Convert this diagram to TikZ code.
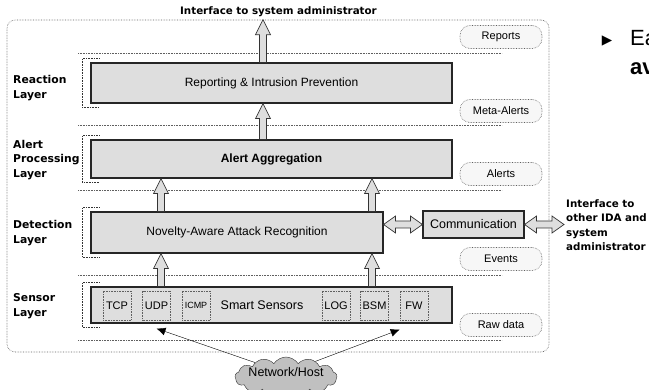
\documentclass[tikz,border=0pt]{standalone}
\usepackage{fontspec}
\setmainfont{Liberation Sans}
\newfontfamily\gothfont{DejaVu Sans}
\usetikzlibrary{arrows.meta,positioning,shapes.symbols,calc}
\definecolor{boxgray}{RGB}{222,222,222}
\definecolor{dotgray}{RGB}{95,95,95}
\definecolor{cloudgray}{RGB}{192,192,192}

\tikzset{
  layerbox/.style={draw=black!85, line width=1.1pt, fill=boxgray, inner sep=0pt,
    font=\fontsize{12}{14}\selectfont},
  sensbox/.style={draw=dotgray, densely dotted, line width=0.6pt, minimum width=28pt,
    minimum height=29pt, inner sep=0pt, font=\fontsize{11}{12}\selectfont},
  pill/.style={draw=dotgray, densely dotted, line width=0.6pt, rounded corners=10pt,
    fill=black!3, minimum width=82pt, minimum height=23pt, font=\fontsize{11}{12}\selectfont},
  layerlab/.style={font=\gothfont\bfseries\fontsize{10.8}{14.5}\selectfont, align=left,
    anchor=west, inner sep=0pt},
  sepline/.style={dotgray, densely dotted, line width=0.6pt},
  bracket/.style={black!80, densely dotted, line width=0.6pt},
  fatarrow/.style={draw=black!80, fill=boxgray, line width=0.7pt, line join=miter},
}

% outlined block arrow, bottom point #1 up to tip #2
\newcommand{\fatup}[2]{%
  \path[fatarrow] let \p1=(#1), \p2=(#2) in
    (\x1-3.5pt,\y1) -- (\x1-3.5pt,\y2-15pt) -- (\x1-7.5pt,\y2-15pt) -- (\x1,\y2)
    -- (\x1+7.5pt,\y2-15pt) -- (\x1+3.5pt,\y2-15pt) -- (\x1+3.5pt,\y1) -- cycle;}
% outlined double block arrow, left tip #1 to right tip #2
\newcommand{\fatboth}[2]{%
  \path[fatarrow] let \p1=(#1), \p2=(#2) in
    (\x1,\y1) -- (\x1+12pt,\y1+8.5pt) -- (\x1+12pt,\y1+3.5pt) -- (\x2-12pt,\y1+3.5pt)
    -- (\x2-12pt,\y1+8.5pt) -- (\x2,\y1) -- (\x2-12pt,\y1-8.5pt) -- (\x2-12pt,\y1-3.5pt)
    -- (\x1+12pt,\y1-3.5pt) -- (\x1+12pt,\y1-8.5pt) -- cycle;}

\begin{document}
\begin{tikzpicture}[x=1pt,y=-1pt]
  \useasboundingbox (0,0) rectangle (649,390);
  % outer frame
  \node[draw=dotgray, densely dotted, line width=0.6pt, rounded corners=8pt,
    minimum width=542pt, minimum height=332pt, inner sep=0pt] (outer) at (278,186) {};
  \node[font=\gothfont\bfseries\fontsize{10.3}{12}\selectfont] (admin) at (278.5,12)
    {Interface to system administrator};
  % layer separators
  \foreach \yy in {53,125,190,275,340}
    \draw[sepline] (78,\yy) -- (502,\yy);
  % layer labels
  \node[layerlab] (lreact) at (13,88) {Reaction\\Layer};
  \node[layerlab] (lalert) at (13,160) {Alert\\Processing\\Layer};
  \node[layerlab] (ldet) at (13,233) {Detection\\Layer};
  \node[layerlab] (lsens) at (13,306) {Sensor\\Layer};
  % main boxes
  \node[layerbox, minimum width=361pt, minimum height=40pt] (rep) at (271.5,83)
    {Reporting \& Intrusion Prevention};
  \node[layerbox, minimum width=361pt, minimum height=38pt] (agg) at (271.5,159)
    {\bfseries Alert Aggregation};
  \node[layerbox, minimum width=292pt, minimum height=41pt] (nov) at (237,232.5)
    {Novelty-Aware Attack Recognition};
  \node[layerbox, minimum width=361pt, minimum height=36pt] (sens) at (271.5,305) {};
  \node[layerbox, minimum width=101pt, minimum height=27pt, font=\fontsize{12.5}{14}\selectfont]
    (comm) at (473.5,224.5) {Communication};
  % sensors
  \node[font=\fontsize{12.5}{14}\selectfont] (smart) at (262,305) {Smart Sensors};
  \node[sensbox] (tcp) at (117,305.5) {TCP};
  \node[sensbox] (udp) at (156.5,305.5) {UDP};
  \node[sensbox, font=\fontsize{9}{10}\selectfont] (icmp) at (196,305.5) {ICMP};
  \node[sensbox] (log) at (336,305.5) {LOG};
  \node[sensbox] (bsm) at (374.5,305.5) {BSM};
  \node[sensbox] (fw) at (414,305.5) {FW};
  % brackets left of boxes
  \foreach \bx in {rep,agg,nov,sens}
    \draw[bracket] ([shift={(9pt,4pt)}]\bx.north west) -| ([shift={(-8pt,-4pt)}]\bx.south west)
      -- ++(17pt,0);
  % data labels
  \node[pill] (reports) at (501,37) {Reports};
  \node[pill] (meta) at (501,111) {Meta-Alerts};
  \node[pill] (alerts) at (501,174) {Alerts};
  \node[pill] (events) at (501,259) {Events};
  \node[pill] (raw) at (501,325) {Raw data};
  % interface to other IDA
  \node[layerlab, font=\gothfont\bfseries\fontsize{10.3}{14.5}\selectfont] (iface) at (566,225)
    {Interface to\\other IDA and\\system\\administrator};
  % block arrows
  \coordinate (ax) at (263,0);
  \coordinate (lx) at (161,0);
  \coordinate (rx) at (372,0);
  \fatup{rep.north -| ax}{outer.north -| ax}
  \fatup{agg.north -| ax}{rep.south -| ax}
  \fatup{nov.north -| lx}{agg.south -| lx}
  \fatup{nov.north -| rx}{agg.south -| rx}
  \fatup{sens.north -| lx}{nov.south -| lx}
  \fatup{sens.north -| rx}{nov.south -| rx}
  \fatboth{nov.east |- comm.west}{comm.west}
  \fatboth{comm.east}{[xshift=-2pt]iface.west}
  % network source
  \node[cloud, cloud puffs=13, cloud puff arc=115, aspect=2.6, draw=black!80, fill=cloudgray,
    minimum width=102pt, minimum height=40pt, inner sep=0pt,
    font=\fontsize{12.5}{14}\selectfont] (net) at (286,377) {\smash{\makebox[0pt]{Network/Host}}};
  \draw[-{Latex[length=9pt,width=8pt]}] (net.155) -- ([yshift=-5pt]sens.south -| udp);
  \draw[-{Latex[length=9pt,width=8pt]}] (net.28) -- ([yshift=-6pt]sens.south -| fw.west);
  % slide text at the edge
  \node[font=\gothfont\fontsize{13.5}{14}\selectfont, inner sep=0pt] (bul) at (607,41) {▶};
  \node[anchor=west, font=\fontsize{22}{26}\selectfont, inner sep=0pt] (ea) at (630,38) {Ea};
  \node[anchor=west, font=\bfseries\fontsize{22}{26}\selectfont, inner sep=0pt] (av) at (630,69) {av};
\end{tikzpicture}
\end{document}
